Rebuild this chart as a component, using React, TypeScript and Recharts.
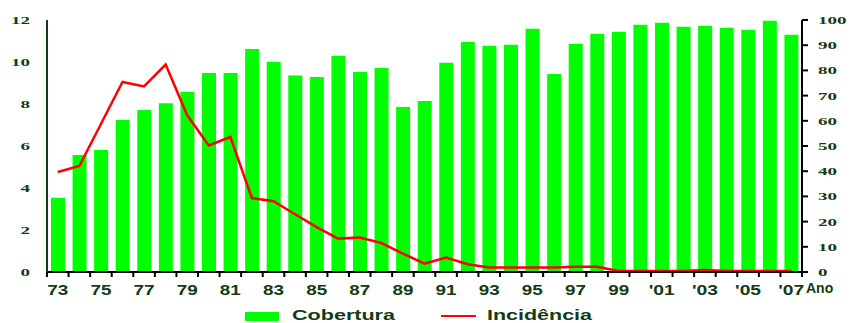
import React from "react";
import {
  ComposedChart,
  Bar,
  Line,
  XAxis,
  YAxis
} from "recharts";

const years = [
  "73", "74", "75", "76", "77", "78", "79", "80", "81", "82", "83", "84",
  "85", "86", "87", "88", "89", "90", "91", "92", "93", "94", "95", "96",
  "97", "98", "99", "'00", "'01", "'02", "'03", "'04", "'05", "'06", "'07"
];

// cobertura (%), right axis
const cobertura = [
  29.5, 46.4, 48.4, 60.3, 64.3, 67, 71.5, 79, 79, 88.5, 83.4, 78,
  77.4, 85.8, 79.4, 81, 65.5, 67.9, 83, 91.3, 89.8, 90.2, 96.5, 78.6,
  90.6, 94.5, 95.3, 98.1, 98.9, 97.3, 97.7, 96.9, 96.1, 99.7, 94.1
];

// incidência, left axis
const incidencia = [
  4.76, 5.05, 7.05, 9.05, 8.84, 9.88, 7.46, 6.03, 6.43, 3.52, 3.37, 2.75,
  2.14, 1.59, 1.64, 1.38, 0.88, 0.4, 0.69, 0.37, 0.21, 0.21, 0.21, 0.21,
  0.25, 0.25, 0.05, 0.05, 0.05, 0.05, 0.1, 0.05, 0.05, 0.05, 0.05
];

const leftTicks = [0, 2, 4, 6, 8, 10, 12];
const rightTicks = [0, 10, 20, 30, 40, 50, 60, 70, 80, 90, 100];

const data = years.map((ano, i) => ({
  ano,
  cobertura: cobertura[i],
  incidencia: incidencia[i]
}));

const WIDTH = 850;
const HEIGHT = 323;
const LEFT_W = 47;
const RIGHT_W = 48;
const BAND = (WIDTH - LEFT_W - RIGHT_W) / years.length;
const TEXT = "#143c14";
const SANS = "Liberation Sans, Arial, sans-serif";

function XTick(props: any) {
  const { x, y, payload, index } = props;
  const label = String(payload.value);
  const len = label.replace("'", "").length * 10.5 + (label.includes("'") ? 5 : 0);
  return (
    <g>
      <line x1={x - BAND / 2} x2={x - BAND / 2} y1={y} y2={y + 5} stroke="#000" strokeWidth={2} />
      {index === years.length - 1 && (
        <line x1={x + BAND / 2} x2={x + BAND / 2} y1={y} y2={y + 5} stroke="#000" strokeWidth={2} />
      )}
      {index % 2 === 0 && (
        <text
          x={x}
          y={y + 23}
          textAnchor="middle"
          fontFamily={SANS}
          fontWeight="bold"
          fontSize={14}
          fill={TEXT}
          textLength={len}
          lengthAdjust="spacingAndGlyphs"
        >
          {label}
        </text>
      )}
    </g>
  );
}

function YTick(props: any) {
  const { x, y, payload, textAnchor } = props;
  const label = String(payload.value);
  return (
    <text
      x={x}
      y={y + 4}
      textAnchor={textAnchor}
      fontFamily="Liberation Serif, Times New Roman, serif"
      fontWeight="bold"
      fontSize={11}
      fill={TEXT}
      textLength={label.length * 9.5}
      lengthAdjust="spacingAndGlyphs"
    >
      {label}
    </text>
  );
}

export default function App() {
  return (
    <div style={{ position: "absolute", left: 0, top: 0, width: WIDTH, height: HEIGHT, background: "#fff" }}>
      <ComposedChart
        width={WIDTH}
        height={HEIGHT}
        data={data}
        margin={{ top: 20, right: 0, left: 0, bottom: 26 }}
      >
        <XAxis
          dataKey="ano"
          interval={0}
          height={25}
          tickSize={0}
          tickMargin={0}
          tickLine={false}
          axisLine={{ stroke: "#000", strokeWidth: 2 }}
          tick={<XTick />}
        />
        <YAxis
          yAxisId="left"
          width={LEFT_W}
          domain={[0, 12]}
          ticks={leftTicks}
          tickSize={0}
          tickMargin={17}
          tickLine={false}
          axisLine={{ stroke: TEXT, strokeWidth: 2 }}
          tick={<YTick />}
        />
        <YAxis
          yAxisId="right"
          orientation="right"
          width={RIGHT_W}
          domain={[0, 100]}
          ticks={rightTicks}
          tickSize={6}
          tickMargin={10}
          tickLine={{ stroke: "#000", strokeWidth: 2 }}
          axisLine={{ stroke: "#000", strokeWidth: 2 }}
          tick={<YTick />}
        />
        <Bar
          yAxisId="right"
          dataKey="cobertura"
          name="Cobertura"
          fill="#00ff00"
          barSize={14}
          isAnimationActive={false}
        />
        <Line
          yAxisId="left"
          dataKey="incidencia"
          name="Incidência"
          stroke="#ff0000"
          strokeWidth={2.5}
          dot={false}
          type="linear"
          isAnimationActive={false}
        />
        <text x={806} y={293} fontFamily={SANS} fontWeight="bold" fontSize={14} fill={TEXT}>
          Ano
        </text>
        {/* legend */}
        <rect x={245} y={312} width={34} height={9} fill="#00ff00" />
        <text
          x={292}
          y={320}
          fontFamily={SANS}
          fontWeight="bold"
          fontSize={14}
          fill={TEXT}
          textLength={103}
          lengthAdjust="spacingAndGlyphs"
        >
          Cobertura
        </text>
        <line x1={441} x2={476} y1={316} y2={316} stroke="#ff0000" strokeWidth={2} />
        <text
          x={487}
          y={320}
          fontFamily={SANS}
          fontWeight="bold"
          fontSize={14}
          fill={TEXT}
          textLength={105}
          lengthAdjust="spacingAndGlyphs"
        >
          Incidência
        </text>
      </ComposedChart>
    </div>
  );
}
